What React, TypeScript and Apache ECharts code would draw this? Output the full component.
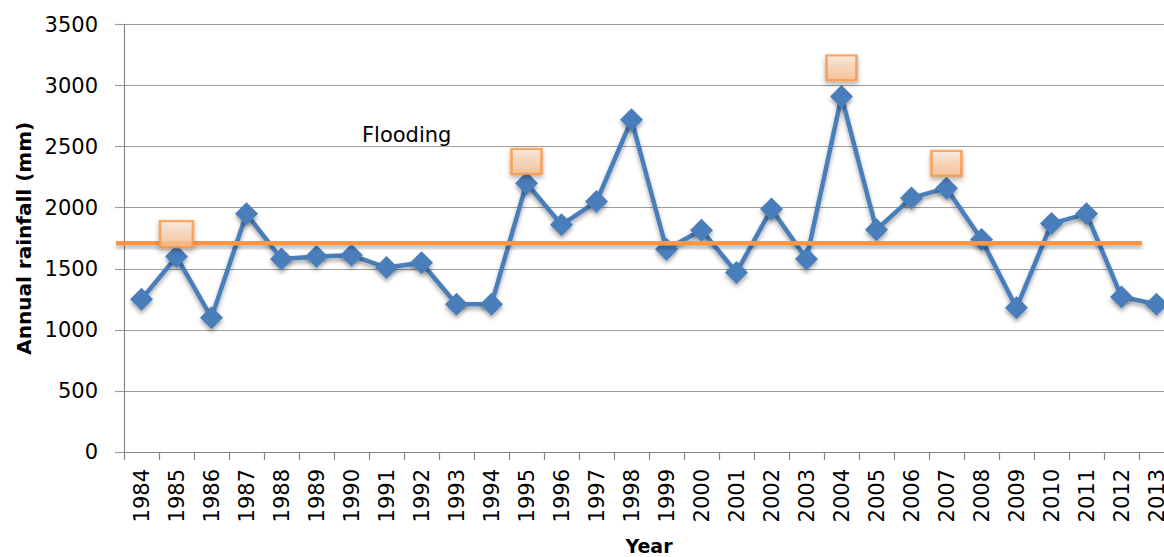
import React, { useEffect, useRef } from "react";
import * as echarts from "echarts";

const years = ["1984","1985","1986","1987","1988","1989","1990","1991","1992","1993","1994","1995","1996","1997","1998","1999","2000","2001","2002","2003","2004","2005","2006","2007","2008","2009","2010","2011","2012","2013"];
const rainfall = [1250,1600,1100,1950,1580,1600,1610,1510,1550,1210,1210,2200,1860,2050,2720,1660,1815,1470,1990,1580,2910,1820,2080,2160,1740,1180,1870,1950,1270,1210];
const floodYears = ["1985","1995","2004","2007"];
const floodMarkerValues = [1783,2380,3145,2363];
const floodThreshold = 1710;
const yTicks = [0, 500, 1000, 1500, 2000, 2500, 3000, 3500];
const floodLabel = "Flooding";

const FONT = "DejaVu Sans";

export default function App() {
  const ref = useRef<HTMLDivElement>(null);
  useEffect(() => {
    document.body.style.margin = "0";
    const chart = echarts.init(ref.current!, null, { renderer: "svg" });
    const option: any = {
      animation: false,
      backgroundColor: "#ffffff",
      grid: { left: 124, top: 24.5, width: 1050, bottom: 105, containLabel: false, outerBoundsMode: "none" },
      xAxis: {
        type: "category",
        data: years,
        boundaryGap: true,
        name: "Year",
        nameLocation: "middle",
        nameGap: 84,
        nameTextStyle: { fontFamily: FONT, fontWeight: "bold", fontSize: 19, color: "#000" },
        axisLine: { lineStyle: { color: "#868686", width: 1.2 } },
        axisTick: { show: true, length: 8, alignWithLabel: false, lineStyle: { color: "#868686", width: 1.2 } },
        axisLabel: { rotate: 90, margin: 17, fontFamily: FONT, fontSize: 21, color: "#000", interval: 0 },
        splitLine: { show: false },
      },
      yAxis: {
        type: "value",
        min: yTicks[0],
        max: yTicks[yTicks.length - 1],
        interval: 500,
        name: "Annual rainfall (mm)",
        nameLocation: "middle",
        nameGap: 88,
        nameTextStyle: { fontFamily: FONT, fontWeight: "bold", fontSize: 20, color: "#000" },
        axisLine: { show: true, lineStyle: { color: "#868686", width: 1.2 } },
        axisTick: { show: true, length: 9, lineStyle: { color: "#9d9d9d", width: 1.2 } },
        axisLabel: { margin: 26, fontFamily: FONT, fontSize: 21, color: "#000", formatter: (v: number) => String(v) },
        splitLine: { show: true, lineStyle: { color: "#9d9d9d", width: 1.2 } },
      },
      series: [
        {
          type: "line",
          data: rainfall,
          symbol: "diamond",
          symbolSize: 23,
          lineStyle: { color: "#4a7ebb", width: 4.5, shadowColor: "rgba(0,0,0,0.35)", shadowBlur: 4, shadowOffsetY: 3 },
          itemStyle: { color: "#4a7ebb", shadowColor: "rgba(0,0,0,0.35)", shadowBlur: 4, shadowOffsetY: 3 },
          z: 3,
        },
        {
          type: "scatter",
          data: floodYears.map((y, i) => ({
            value: [y, floodMarkerValues[i]],
            symbolSize: i === 0 ? [33, 26] : [30, 25],
          })),
          symbol: "rect",
          itemStyle: {
            color: new echarts.graphic.LinearGradient(0, 0, 0, 1, [
              { offset: 0, color: "#fdeadb" },
              { offset: 1, color: "#fbbd8a" },
            ]),
            borderColor: "#f79646",
            borderWidth: 2.5,
            shadowColor: "rgba(0,0,0,0.35)",
            shadowBlur: 5,
            shadowOffsetY: 3,
          },
          z: 5,
        },
      ],
    };
    chart.setOption(option);
    const yPix = chart.convertToPixel({ yAxisIndex: 0 }, floodThreshold) as number;
    chart.setOption({
      graphic: [
        {
          type: "rect",
          shape: { x: 116, y: yPix - 2.25, width: 1026, height: 4.5 },
          style: { fill: "#f79646", shadowColor: "rgba(0,0,0,0.3)", shadowBlur: 4, shadowOffsetY: 3 },
          z: 4,
        },
        {
          type: "text",
          left: 362,
          top: 124,
          style: { text: floodLabel, fontFamily: FONT, fontSize: 21, fill: "#000" },
          z: 6,
        },
      ],
    });
    return () => chart.dispose();
  }, []);
  return <div ref={ref} style={{ position: "fixed", left: 0, top: 0, width: 1164, height: 557 }} />;
}
